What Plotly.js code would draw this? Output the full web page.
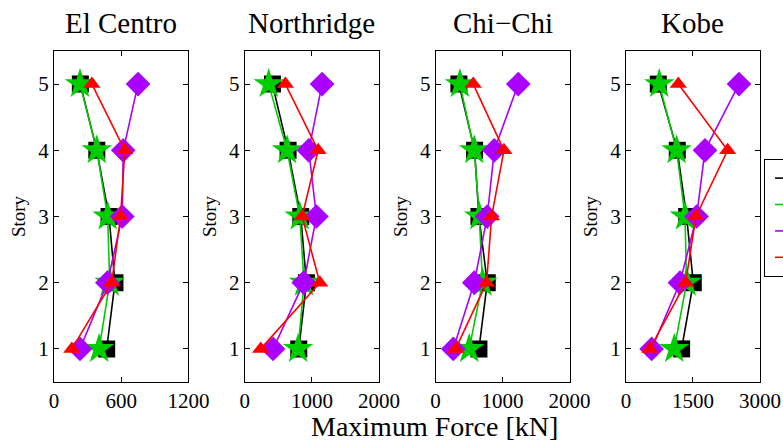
<!DOCTYPE html>
<html>
<head>
<meta charset="utf-8">
<script src="https://cdn.plot.ly/plotly-3.0.1.min.js"></script>
<style>html,body{margin:0;padding:0;background:#fff;}#chart{width:783px;height:442px;}</style>
</head>
<body>
<div id="chart"></div>
<script>
// ---- data ----
const stories = [1, 2, 3, 4, 5];
const earthquakes = ["El Centro", "Northridge", "Chi\u2212Chi", "Kobe"];
const seriesNames = ["", "", "", ""]; // legend labels are cut off in the reference
const xTickVals = [[0, 600, 1200], [0, 1000, 2000], [0, 1000, 2000], [0, 1500, 3000]];
const xRanges = [[0, 1200], [0, 2000], [0, 2000], [0, 3000]];
// values per story (1..5), per earthquake
const blackVals = [
  [470, 544, 491, 382, 235],
  [804, 918, 834, 645, 412],
  [647, 771, 647, 582, 348],
  [1246, 1507, 1358, 1149, 724]
];
const greenVals = [
  [403, 497, 479, 382, 232],
  [794, 883, 819, 630, 357],
  [502, 700, 652, 577, 363],
  [1082, 1358, 1321, 1134, 746]
];
const purpleVals = [
  [232, 476, 609, 618, 750],
  [422, 878, 1067, 953, 1151],
  [264, 577, 771, 876, 1234],
  [575, 1209, 1582, 1769, 2530]
];
const redVals = [
  [159, 515, 594, 632, 338],
  [238, 1117, 854, 1092, 605],
  [299, 761, 836, 1020, 562],
  [537, 1336, 1567, 2276, 1172]
];

// ---- styles ----
const styles = [
  {vals: blackVals, color: "#000000", symbol: "square", size: 17},
  {vals: greenVals, color: "#00cc00", symbol: "star", size: 23},
  {vals: purpleVals, color: "#aa00ff", symbol: "diamond", size: 19},
  {vals: redVals, color: "#ff0000", symbol: "triangle-up", size: 15}
];

const font = "Liberation Serif, Times New Roman, serif";
const domains = [[0, 0.1905], [0.2702, 0.4605], [0.5405, 0.7303], [0.8101, 1]];

const traces = [];
const layout = {
  width: 783, height: 442,
  margin: {l: 54, r: 23, t: 51, b: 60, autoexpand: false},
  paper_bgcolor: "#fff", plot_bgcolor: "#fff",
  font: {family: font, color: "#000", size: 20},
  showlegend: true,
  legend: {
    x: 1.0057, y: 0.674, xanchor: "left", yanchor: "top",
    bordercolor: "#000", borderwidth: 1, bgcolor: "#fff",
    font: {family: font, size: 18, color: "#000"},
    indentation: 5, tracegroupgap: 0
  },
  annotations: []
};

earthquakes.forEach((eq, i) => {
  const xa = i === 0 ? "x" : "x" + (i + 1);
  const ya = i === 0 ? "y" : "y" + (i + 1);
  styles.forEach((s) => {
    traces.push({
      type: "scatter", mode: "lines+markers",
      x: s.vals[i], y: stories, xaxis: xa, yaxis: ya,
      line: {color: s.color, width: 1.6},
      marker: {color: s.color, symbol: s.symbol, size: s.size, line: {width: 0}},
      showlegend: false, hoverinfo: "skip"
    });
  });
  const xk = i === 0 ? "xaxis" : "xaxis" + (i + 1);
  const yk = i === 0 ? "yaxis" : "yaxis" + (i + 1);
  layout[xk] = {
    domain: domains[i], anchor: ya, range: xRanges[i],
    tickvals: xTickVals[i], ticktext: xTickVals[i].map(String),
    ticks: "inside", ticklen: 5, tickcolor: "#000", tickwidth: 1,
    showline: true, linecolor: "#000", linewidth: 1, mirror: "allticks",
    showgrid: false, zeroline: false,
    tickfont: {family: font, size: 21, color: "#000"}
  };
  layout[yk] = {
    domain: [0, 1], anchor: xa, range: [0.5, 5.5],
    tickvals: stories,
    ticks: "inside", ticklen: 5, tickcolor: "#000", tickwidth: 1,
    showline: true, linecolor: "#000", linewidth: 1, mirror: "allticks",
    showgrid: false, zeroline: false,
    tickfont: {family: font, size: 21, color: "#000"},
    title: {text: "Story", font: {family: font, size: 19, color: "#000"}, standoff: 7}
  };
  layout.annotations.push({
    text: eq, xref: "paper", yref: "paper",
    x: (domains[i][0] + domains[i][1]) / 2, y: 1.0,
    xanchor: "center", yanchor: "bottom", yshift: 10, showarrow: false,
    font: {family: font, size: 29, color: "#000"}
  });
});

// legend entries (lines only)
styles.forEach((s, k) => {
  traces.push({
    type: "scatter", mode: "lines", x: [null], y: [null],
    line: {color: s.color, width: 1.6}, name: seriesNames[k],
    showlegend: true, hoverinfo: "skip"
  });
});

layout.annotations.push({
  text: "Maximum Force [kN]", xref: "paper", yref: "paper",
  x: 0.5395, y: -0.134, xanchor: "center", yanchor: "middle", showarrow: false,
  font: {family: font, size: 28, color: "#000"}
});

Plotly.newPlot("chart", traces, layout, {staticPlot: true});
</script>
</body>
</html>
